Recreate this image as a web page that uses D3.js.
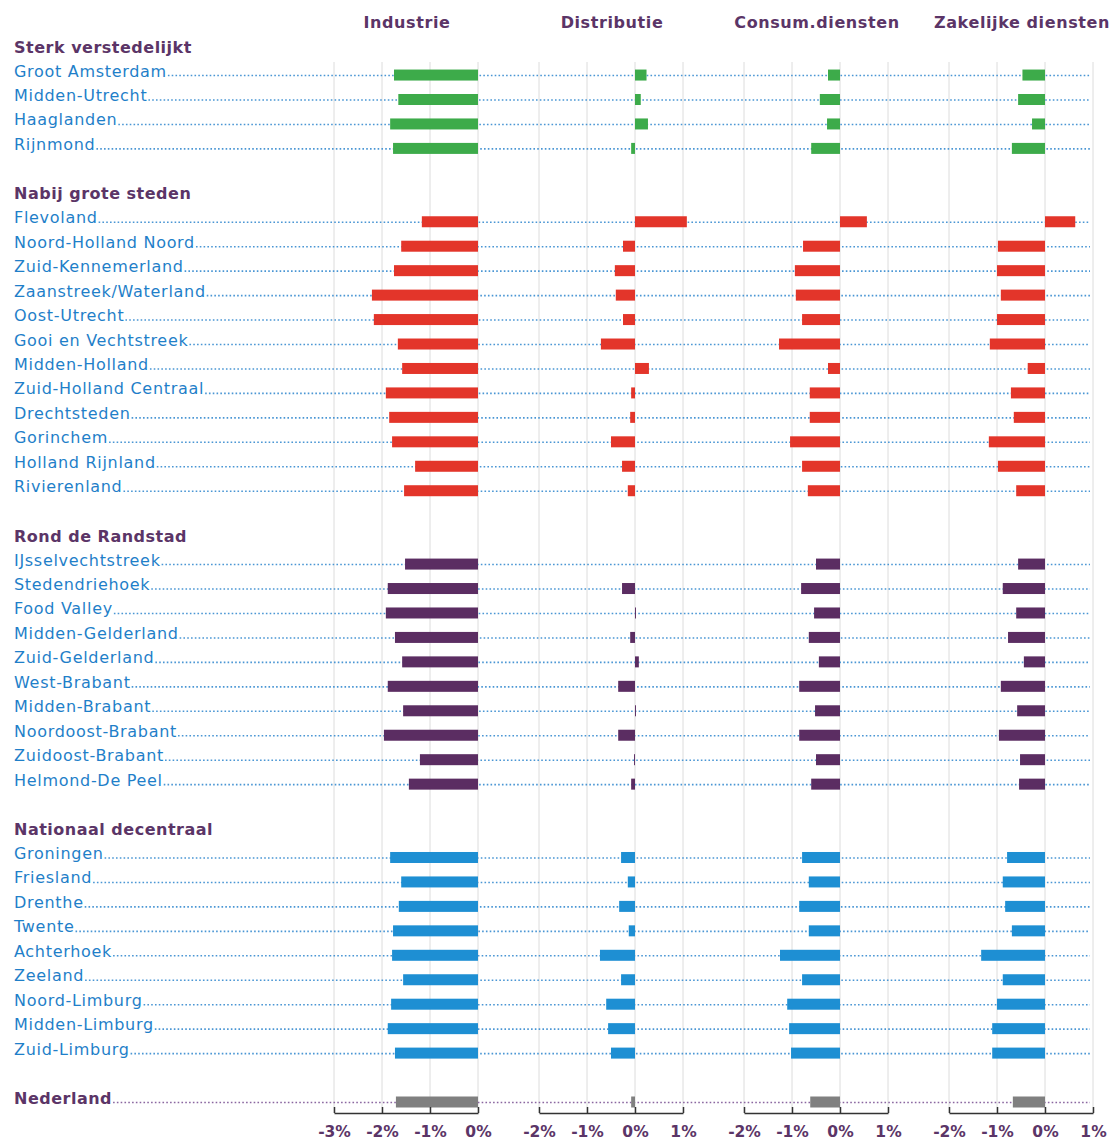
<!DOCTYPE html>
<html lang="nl">
<head>
<meta charset="UTF-8">
<title>Werkgelegenheid per sector</title>
<style>
  body { margin: 0; background: #fff; }
  svg { display: block; font-family: "DejaVu Sans", Verdana, sans-serif; }
</style>
</head>
<body>
<script src="https://cdn.jsdelivr.net/npm/d3@7/dist/d3.min.js"></script>
<script>
// kolommen (sectoren)
var sectors = ['Industrie', 'Distributie', 'Consum.diensten', 'Zakelijke diensten'];
var domains = [[-3, 0], [-2, 1], [-2, 1], [-2, 1]];
var tickVals = [[-3, -2, -1, 0], [-2, -1, 0, 1], [-2, -1, 0, 1], [-2, -1, 0, 1]];

// groepen en regio's
var groups = ['Sterk verstedelijkt', 'Nabij grote steden', 'Rond de Randstad', 'Nationaal decentraal'];
var groupColors = ['#3dab4a', '#e3352a', '#5b2d62', '#1e8fd3'];
var sterk = ['Groot Amsterdam', 'Midden-Utrecht', 'Haaglanden', 'Rijnmond'];
var nabij = ['Flevoland', 'Noord-Holland Noord', 'Zuid-Kennemerland', 'Zaanstreek/Waterland',
    'Oost-Utrecht', 'Gooi en Vechtstreek', 'Midden-Holland', 'Zuid-Holland Centraal',
    'Drechtsteden', 'Gorinchem', 'Holland Rijnland', 'Rivierenland'];
var rond = ['IJsselvechtstreek', 'Stedendriehoek', 'Food Valley', 'Midden-Gelderland',
    'Zuid-Gelderland', 'West-Brabant', 'Midden-Brabant', 'Noordoost-Brabant',
    'Zuidoost-Brabant', 'Helmond-De Peel'];
var decentraal = ['Groningen', 'Friesland', 'Drenthe', 'Twente', 'Achterhoek', 'Zeeland',
    'Noord-Limburg', 'Midden-Limburg', 'Zuid-Limburg'];

// waarden (%), zelfde volgorde als de regio's hierboven
var industrie = [-1.75, -1.66, -1.83, -1.77,
    -1.17, -1.60, -1.75, -2.21, -2.17, -1.67, -1.58, -1.92, -1.85, -1.79, -1.31, -1.54,
    -1.52, -1.88, -1.92, -1.73, -1.58, -1.88, -1.56, -1.96, -1.21, -1.44,
    -1.83, -1.60, -1.65, -1.77, -1.79, -1.56, -1.81, -1.88, -1.73];
var distributie = [0.24, 0.12, 0.27, -0.08,
    1.08, -0.25, -0.42, -0.40, -0.25, -0.71, 0.29, -0.08, -0.10, -0.50, -0.27, -0.15,
    0.0, -0.27, 0.02, -0.10, 0.08, -0.35, 0.02, -0.35, -0.02, -0.08,
    -0.29, -0.15, -0.33, -0.13, -0.73, -0.29, -0.60, -0.56, -0.50];
var consum = [-0.25, -0.42, -0.27, -0.60,
    0.56, -0.77, -0.94, -0.92, -0.79, -1.27, -0.25, -0.63, -0.63, -1.04, -0.79, -0.67,
    -0.50, -0.81, -0.54, -0.65, -0.44, -0.85, -0.52, -0.85, -0.50, -0.60,
    -0.79, -0.65, -0.85, -0.65, -1.25, -0.79, -1.10, -1.06, -1.02];
var zakelijk = [-0.47, -0.56, -0.27, -0.69,
    0.63, -0.98, -1.00, -0.92, -1.00, -1.15, -0.36, -0.71, -0.65, -1.17, -0.98, -0.60,
    -0.56, -0.88, -0.60, -0.77, -0.44, -0.92, -0.58, -0.96, -0.52, -0.54,
    -0.79, -0.88, -0.83, -0.69, -1.33, -0.88, -1.00, -1.10, -1.10];
var nederland = [-1.71, -0.08, -0.62, -0.67];

var series = [industrie, distributie, consum, zakelijk];

var W = 1114, H = 1142;
var purple = '#5b3567', textBlue = '#1f7fc9', dotBlue = '#4a96d4';

// rijen opbouwen: kop, regio's, lege rij
var rows = [];
var k = 0;
[sterk, nabij, rond, decentraal].forEach(function(list, g) {
    rows.push({key: 'h' + g, type: 'header', name: groups[g]});
    list.forEach(function(name) {
        rows.push({key: 'r' + k, type: 'region', name: name, color: groupColors[g],
            values: series.map(function(s) { return s[k]; })});
        k++;
    });
    rows.push({key: 'b' + g, type: 'blank'});
});
rows.push({key: 'nl', type: 'total', name: 'Nederland', color: '#808080', values: nederland});

var y = d3.scalePoint()
    .domain(rows.map(function(r) { return r.key; }))
    .range([50.6, 1102]);

var panelLeft = [334, 539, 744, 949];
var xs = sectors.map(function(s, i) {
    return d3.scaleLinear().domain(domains[i]).range([panelLeft[i], panelLeft[i] + 144]);
});

var svg = d3.select('body').append('svg')
    .attr('width', W)
    .attr('height', H);

// rasterlijnen
xs.forEach(function(x, i) {
    svg.append('g').selectAll('line')
        .data(tickVals[i])
        .enter().append('line')
        .attr('x1', function(d) { return x(d); })
        .attr('x2', function(d) { return x(d); })
        .attr('y1', 62)
        .attr('y2', 1113)
        .attr('stroke', '#dcdcdc')
        .attr('stroke-width', 1);
});

// kolomtitels
svg.append('g').selectAll('text')
    .data(sectors)
    .enter().append('text')
    .attr('x', function(d, i) { return panelLeft[i] + 73; })
    .attr('y', 28)
    .attr('text-anchor', 'middle')
    .attr('font-size', 16)
    .attr('font-weight', 'bold')
    .attr('letter-spacing', 0.6)
    .attr('fill', purple)
    .text(function(d) { return d; });

// labels + stippellijnen
var labels = svg.append('g');
rows.forEach(function(r) {
    if (r.type === 'blank') return;
    var cy = y(r.key);
    var t = labels.append('text')
        .attr('x', 14)
        .attr('y', cy + (r.type === 'header' ? 2 : 1.5))
        .attr('font-size', 16)
        .text(r.name);
    if (r.type === 'region') {
        t.attr('fill', textBlue).attr('letter-spacing', 0.7);
    } else {
        t.attr('fill', purple).attr('font-weight', 'bold').attr('letter-spacing', 0.5);
    }
    if (r.type !== 'header') {
        var len = t.node().getComputedTextLength();
        labels.append('line')
            .attr('x1', 14 + len + 1)
            .attr('x2', 1090)
            .attr('y1', cy + 0.5)
            .attr('y2', cy + 0.5)
            .attr('stroke', r.type === 'total' ? '#8a66a0' : dotBlue)
            .attr('stroke-width', 1.6)
            .attr('stroke-dasharray', '1.6,2.2');
    }
});

// staven
var barRows = rows.filter(function(r) { return r.values; });
xs.forEach(function(x, i) {
    svg.append('g').selectAll('rect')
        .data(barRows)
        .enter().append('rect')
        .attr('x', function(d) { return Math.min(x(0), x(d.values[i])); })
        .attr('width', function(d) { return Math.abs(x(d.values[i]) - x(0)); })
        .attr('y', function(d) { return y(d.key) - 5.5; })
        .attr('height', 11)
        .attr('fill', function(d) { return d.color; });
});

// assen
xs.forEach(function(x, i) {
    var ax = svg.append('g')
        .attr('transform', 'translate(0,1113)')
        .call(d3.axisBottom(x)
            .tickValues(tickVals[i])
            .tickSizeInner(-6)
            .tickSizeOuter(0)
            .tickPadding(13)
            .tickFormat(function(d) { return d + '%'; }));
    ax.select('.domain').attr('stroke', '#333').attr('stroke-width', 1.5);
    ax.selectAll('.tick line').attr('stroke', '#333').attr('stroke-width', 1.5);
    ax.selectAll('.tick text')
        .attr('fill', purple)
        .attr('font-size', 15.5)
        .attr('font-weight', 'bold')
        .attr('font-family', '"DejaVu Sans", Verdana, sans-serif');
});
</script>
</body>
</html>
